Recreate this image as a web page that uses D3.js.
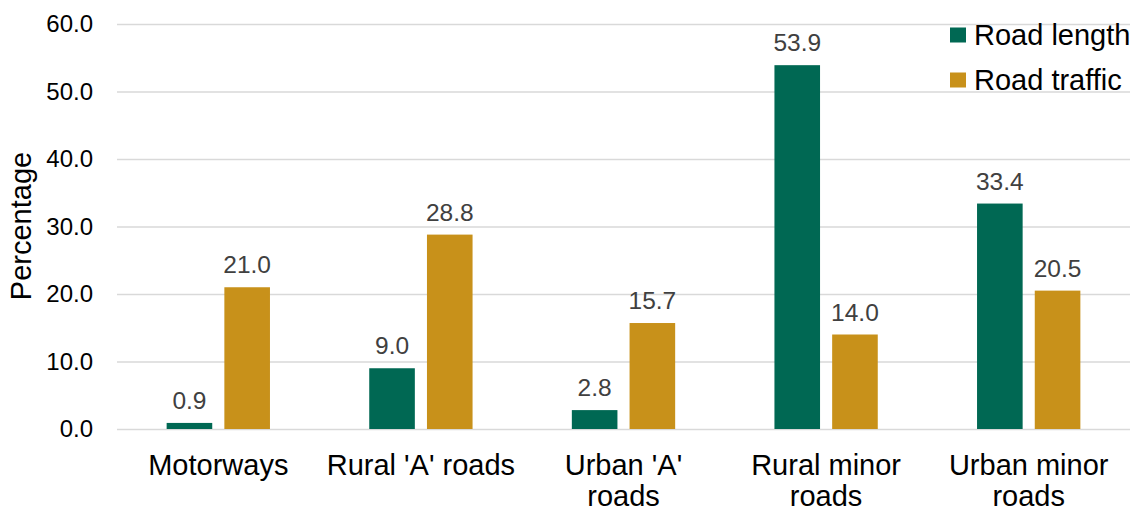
<!DOCTYPE html>
<html>
<head>
<meta charset="utf-8">
<script src="https://cdn.jsdelivr.net/npm/d3@7"></script>
<style>
  body { margin: 0; background: #fff; }
  svg text { font-family: "Liberation Sans", Arial, sans-serif; }
</style>
</head>
<body>
<svg id="canvas" width="1134" height="510"></svg>
<script>
// chart data
let categories = ['Motorways', "Rural 'A' roads", "Urban 'A' roads", 'Rural minor roads', 'Urban minor roads'];
// how each category label breaks onto lines
let categoryLines = [['Motorways'], ["Rural 'A' roads"], ["Urban 'A'", 'roads'], ['Rural minor', 'roads'], ['Urban minor', 'roads']];
let seriesNames = ['Road length', 'Road traffic'];
let roadLength = [0.9, 9.0, 2.8, 53.9, 33.4];
let roadTraffic = [21.0, 28.8, 15.7, 14.0, 20.5];
let yTicks = [0, 10, 20, 30, 40, 50, 60];
let colors = ['#006853', '#C8911A'];

let canvas = d3.select('#canvas');

// plot area edges
let plotLeft = 117, plotRight = 1130, plotTop = 24, plotBottom = 429;

let x0 = d3.scaleBand()
    .domain(categories)
    .range([plotLeft, plotRight])
    .padding(0);

let x1 = d3.scaleBand()
    .domain(seriesNames)
    .range([0, x0.bandwidth()])
    .paddingInner(0.21)
    .paddingOuter(0.86);

let y = d3.scaleLinear()
    .domain([0, 60])
    .range([plotBottom, plotTop]);

// gridlines + tick labels
let yAxis = d3.axisLeft(y)
    .tickValues(yTicks)
    .tickSize(-(plotRight - plotLeft))
    .tickPadding(24)
    .tickFormat(d3.format('.1f'));

let gy = canvas.append('g')
    .attr('transform', `translate(${plotLeft},0)`)
    .call(yAxis);
gy.select('.domain').remove();
gy.selectAll('line').attr('stroke', '#d9d9d9').attr('stroke-width', 1.5);
gy.selectAll('text')
    .style('font-size', '24px')
    .style('font-family', '"Liberation Sans", Arial, sans-serif')
    .attr('fill', '#000');

// bars
let rows = categories.map((c, i) => ({
    category: c,
    values: [roadLength[i], roadTraffic[i]]
}));

let groups = canvas.selectAll('g.group')
    .data(rows)
    .enter()
    .append('g')
    .attr('class', 'group')
    .attr('transform', d => `translate(${x0(d.category)},0)`);

groups.selectAll('rect')
    .data(d => d.values.map((v, j) => ({ name: seriesNames[j], value: v, idx: j })))
    .enter()
    .append('rect')
    .attr('x', d => x1(d.name))
    .attr('y', d => y(d.value))
    .attr('width', x1.bandwidth())
    .attr('height', d => y(0) - y(d.value))
    .attr('fill', d => colors[d.idx]);

groups.selectAll('text.value')
    .data(d => d.values.map((v, j) => ({ name: seriesNames[j], value: v })))
    .enter()
    .append('text')
    .classed('value', true)
    .attr('x', d => x1(d.name) + x1.bandwidth() / 2)
    .attr('y', d => y(d.value) - 14)
    .attr('text-anchor', 'middle')
    .style('font-size', '24.5px')
    .attr('fill', '#404040')
    .text(d => d.value.toFixed(1));

// category labels
let catText = canvas.selectAll('text.cat')
    .data(categories)
    .enter()
    .append('text')
    .classed('cat', true)
    .attr('text-anchor', 'middle')
    .style('font-size', '29px')
    .attr('fill', '#000');

catText.selectAll('tspan')
    .data((d, i) => categoryLines[i])
    .enter()
    .append('tspan')
    .attr('x', function() {
        let c = d3.select(this.parentNode).datum();
        return x0(c) + x0.bandwidth() / 2;
    })
    .attr('y', (d, k) => 475 + k * 31)
    .text(d => d);

// y axis title
canvas.append('text')
    .attr('transform', `translate(31,226) rotate(-90)`)
    .attr('text-anchor', 'middle')
    .style('font-size', '29px')
    .attr('fill', '#000')
    .text('Percentage');

// legend
let legend = canvas.selectAll('g.legend')
    .data(seriesNames)
    .enter()
    .append('g')
    .attr('class', 'legend')
    .attr('transform', (d, i) => `translate(950,${35 + i * 45})`);

legend.append('rect')
    .attr('x', 0)
    .attr('y', -7.5)
    .attr('width', 16)
    .attr('height', 15)
    .attr('fill', (d, i) => colors[i]);

legend.append('text')
    .attr('x', 24)
    .attr('y', 10)
    .style('font-size', '29px')
    .attr('fill', '#000')
    .text(d => d);
</script>
</body>
</html>
